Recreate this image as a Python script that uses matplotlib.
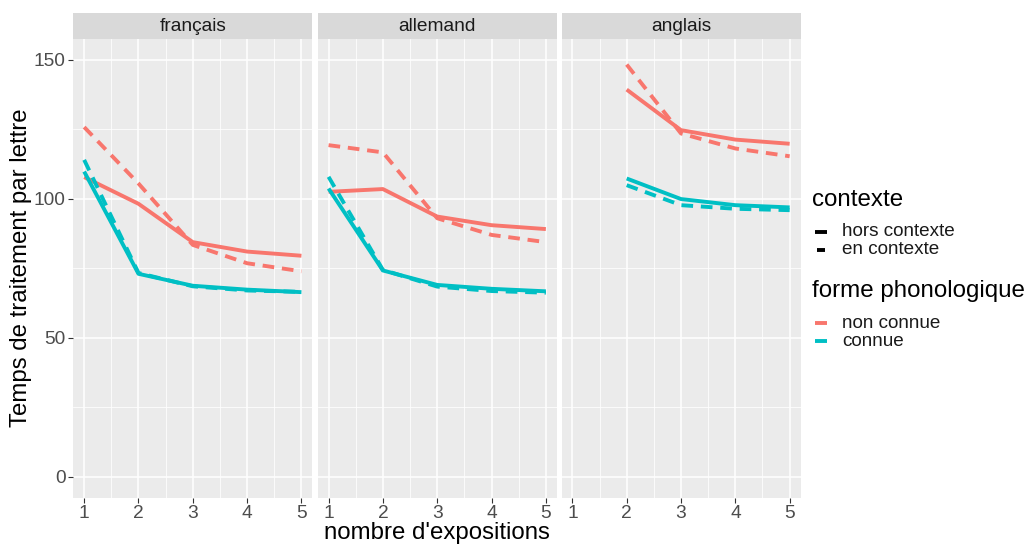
import matplotlib
matplotlib.use("Agg")
import matplotlib.pyplot as plt
from matplotlib.lines import Line2D

plt.rcParams["font.family"] = ["Liberation Sans", "DejaVu Sans"]

W, H = 1029, 544

langues = ["français", "allemand", "anglais"]
expositions = [1, 2, 3, 4, 5]

# non connue (rouge) / connue (bleu), hors contexte (plein) / en contexte (tirets)
fr_nc_hors = [107.8, 98.2, 84.4, 81.0, 79.5]
fr_nc_en = [125.8, 105.5, 83.4, 76.8, 73.9]
fr_c_hors = [109.8, 73.0, 68.7, 67.3, 66.4]
fr_c_en = [114.0, 73.3, 68.5, 67.0, 66.5]

de_nc_hors = [102.5, 103.5, 93.6, 90.5, 89.1]
de_nc_en = [119.3, 116.7, 93.0, 87.0, 84.4]
de_c_hors = [103.7, 74.2, 69.0, 67.6, 66.7]
de_c_en = [107.9, 74.4, 68.4, 66.8, 66.2]

en_x = [2, 3, 4, 5]
en_nc_hors = [139.3, 124.7, 121.3, 119.8]
en_nc_en = [148.3, 123.5, 118.1, 115.3]
en_c_hors = [107.3, 99.9, 97.7, 96.9]
en_c_en = [104.9, 97.7, 96.4, 95.9]

ctx_titre = "contexte"
ctx_labels = ["hors contexte", "en contexte"]
forme_titre = "forme phonologique"
forme_labels = ["non connue", "connue"]

ROUGE = "#F8766D"
BLEU = "#00BFC4"
LW = 2.8
TIRETS = (0, (3, 2))

series = [
    (expositions, fr_nc_hors, fr_nc_en, fr_c_hors, fr_c_en),
    (expositions, de_nc_hors, de_nc_en, de_c_hors, de_c_en),
    (en_x, en_nc_hors, en_nc_en, en_c_hors, en_c_en),
]

fig = plt.figure(figsize=(W / 100, H / 100), dpi=100)

lefts = [73.3, 317.7, 561.5]
pw = 239.0
top_px, bot_px = 39.0, 497.5
strip_top = 13.0

for i, (lang, (xs, nch, nce, ch, ce)) in enumerate(zip(langues, series)):
    l = lefts[i] / W
    ax = fig.add_axes([l, 1 - bot_px / H, pw / W, (bot_px - top_px) / H])
    ax.set_facecolor("#EBEBEB")
    for s in ax.spines.values():
        s.set_visible(False)
    ax.set_xlim(0.8, 5.2)
    ax.set_ylim(-7.5, 157.5)
    ax.set_xticks(expositions)
    ax.set_xticks([1.5, 2.5, 3.5, 4.5], minor=True)
    ax.set_yticks([0, 50, 100, 150])
    ax.set_yticks([25, 75, 125], minor=True)
    ax.grid(True, which="major", color="white", lw=1.1)
    ax.grid(True, which="minor", color="white", lw=0.55)
    ax.set_axisbelow(True)
    ax.tick_params(which="major", length=3.5, width=0.8, color="#333333",
                   labelsize=13.8, labelcolor="#4D4D4D", pad=2)
    ax.tick_params(which="minor", length=0)
    if i > 0:
        ax.tick_params(axis="y", which="major", length=0, labelleft=False)

    ax.plot(xs, nch, color=ROUGE, lw=LW, solid_capstyle="butt")
    ax.plot(xs, nce, color=ROUGE, lw=LW, ls=TIRETS)
    ax.plot(xs, ch, color=BLEU, lw=LW, solid_capstyle="butt")
    ax.plot(xs, ce, color=BLEU, lw=LW, ls=TIRETS)

    sax = fig.add_axes([l, 1 - top_px / H, pw / W, (top_px - strip_top) / H])
    sax.set_facecolor("#D9D9D9")
    sax.set_xticks([])
    sax.set_yticks([])
    for s in sax.spines.values():
        s.set_visible(False)
    sax.text(0.5, 0.48, lang, ha="center", va="center", fontsize=13.8,
             color="#1A1A1A", transform=sax.transAxes)

fig.text((lefts[0] + lefts[2] + pw) / 2 / W, 1 - 533 / H, "nombre d'expositions",
         ha="center", va="center", fontsize=17.3)
fig.text(21 / W, 1 - 268 / H, "Temps de traitement par lettre", rotation=90,
         ha="center", va="center", fontsize=17.3)


# légende dessinée à la main (positions en pixels)
def legende(titre, y_titre, labels, y_items, cles):
    fig.text(812 / W, 1 - y_titre / H, titre, ha="left", va="center",
             fontsize=17.4, color="black")
    for lab, y, (col, x0, x1) in zip(labels, y_items, cles):
        fig.add_artist(Line2D([x0 / W, x1 / W], [1 - y / H, 1 - y / H],
                              color=col, lw=LW, solid_capstyle="butt",
                              transform=fig.transFigure))
        fig.text(842 / W, 1 - y / H, lab, ha="left", va="center",
                 fontsize=13.6, color="#1A1A1A")


legende(ctx_titre, 200, ctx_labels, [232, 250],
        [("black", 815, 827), ("black", 817, 825)])
legende(forme_titre, 291, forme_labels, [323, 341],
        [(ROUGE, 815, 827), (BLEU, 815, 827)])

fig.savefig("out.png", dpi=100, facecolor="white")
